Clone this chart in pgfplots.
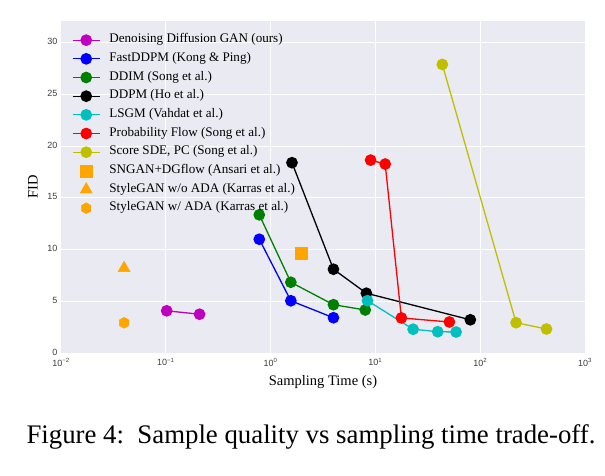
\documentclass[border=0pt]{standalone}
\usepackage{pgfplots}
\pgfplotsset{compat=1.18}
\usepackage{fontspec}
\setmainfont{Liberation Serif}
\newfontfamily\ticksans{Liberation Sans}
\definecolor{bgc}{RGB}{234,234,242}
\definecolor{mag}{RGB}{191,0,191}
\definecolor{gre}{RGB}{0,128,0}
\definecolor{cya}{RGB}{0,191,191}
\definecolor{yel}{RGB}{191,191,0}
\definecolor{ora}{RGB}{255,165,0}
\definecolor{tickc}{RGB}{60,60,60}
\pgfdeclareplotmark{hexagon*}{%
  \pgfpathmoveto{\pgfpointpolar{90}{\pgfplotmarksize}}%
  \pgfpathlineto{\pgfpointpolar{150}{\pgfplotmarksize}}%
  \pgfpathlineto{\pgfpointpolar{210}{\pgfplotmarksize}}%
  \pgfpathlineto{\pgfpointpolar{270}{\pgfplotmarksize}}%
  \pgfpathlineto{\pgfpointpolar{330}{\pgfplotmarksize}}%
  \pgfpathlineto{\pgfpointpolar{30}{\pgfplotmarksize}}%
  \pgfpathclose\pgfusepathqfillstroke}
\pgfplotsset{
  ln/.style={color=#1, line width=1.3pt, mark=*, mark size=5.2pt, mark options={fill=#1, draw=#1, solid}},
  pt/.style={only marks, color=ora, mark options={fill=ora, draw=ora},
    legend image code/.code={\draw[##1] plot coordinates {(0.475cm,0cm)};}},
}
\begin{document}
\begin{tikzpicture}[x=1pt,y=1pt]
\path[use as bounding box] (0,0) rectangle (605,475);
\begin{axis}[
  at={(61pt,122pt)}, anchor=south west,
  scale only axis, width=524pt, height=332pt,
  xmode=log, xmin=0.01, xmax=1000, ymin=0, ymax=32.1,
  axis background/.style={fill=bgc},
  axis line style={draw=none},
  major tick length=0pt, minor tick length=0pt,
  grid=major, major grid style={white, line width=1pt},
  xtick={0.01,0.1,1,10,100,1000},
  xticklabels={10\textsuperscript{−2},10\textsuperscript{−1},10\textsuperscript{0},10\textsuperscript{1},10\textsuperscript{2},10\textsuperscript{3}},
  ytick={0,5,10,15,20,25,30},
  /pgf/number format/assume math mode=true,
  tick label style={font=\ticksans\fontsize{9}{10}\selectfont, text=tickc},
  xticklabel style={yshift=-1.5pt},
  yticklabel style={yshift=1pt},
  xlabel={Sampling Time (s)}, ylabel={FID},
  label style={font=\fontsize{14.5}{16}\selectfont},
  xlabel style={yshift=-2pt},
  ylabel style={yshift=3pt},
  legend cell align=left,
  legend style={at={(0.015,0.977)}, anchor=north west, draw=none, fill=none,
    font=\fontsize{13.1}{15}\selectfont, row sep=0pt,
    nodes={inner sep=0pt, text height=12pt, text depth=6.67pt},
    /tikz/every odd column/.append style={column sep=9pt}},
  legend image code/.code={\draw[mark repeat=2,mark phase=2,#1] plot coordinates {(0cm,0cm) (0.475cm,0cm) (0.95cm,0cm)};},
]
\addplot[ln=mag] coordinates {(0.102,4.08) (0.21,3.75)};
\addlegendentry{Denoising Diffusion GAN (ours)}
\addplot[ln=blue] coordinates {(0.78,11.0) (1.56,5.05) (3.98,3.41)};
\addlegendentry{FastDDPM (Kong \& Ping)}
\addplot[ln=gre] coordinates {(0.78,13.36) (1.56,6.84) (3.98,4.67) (8.0,4.16)};
\addlegendentry{DDIM (Song et al.)}
\addplot[ln=black] coordinates {(1.6,18.4) (3.98,8.1) (8.2,5.78) (80.5,3.21)};
\addlegendentry{DDPM (Ho et al.)}
\addplot[ln=cya] coordinates {(8.4,5.06) (22.9,2.3) (39.3,2.06) (58.9,2.03)};
\addlegendentry{LSGM (Vahdat et al.)}
\addplot[ln=red] coordinates {(9.0,18.65) (12.4,18.27) (17.7,3.39) (50.8,3.0)};
\addlegendentry{Probability Flow (Song et al.)}
\addplot[ln=yel] coordinates {(43.5,27.9) (220,2.93) (429,2.32)};
\addlegendentry{Score SDE, PC (Song et al.)}
\addplot[pt, mark=square*, mark size=6pt] coordinates {(1.95,9.62)};
\addlegendentry{SNGAN+DGflow (Ansari et al.)}
\addplot[pt, mark=triangle*, mark size=7pt] coordinates {(0.04,8.2)};
\addlegendentry{StyleGAN w/o ADA (Karras et al.)}
\addplot[pt, mark=hexagon*, mark size=5.5pt] coordinates {(0.04,2.92)};
\addlegendentry{StyleGAN w/ ADA (Karras et al.)}
\end{axis}
\node[anchor=base, font=\fontsize{26.8}{30}\selectfont, inner sep=0pt] at (311,32) {Figure 4:\ \ Sample quality vs sampling time trade-off.};
\end{tikzpicture}
\end{document}
